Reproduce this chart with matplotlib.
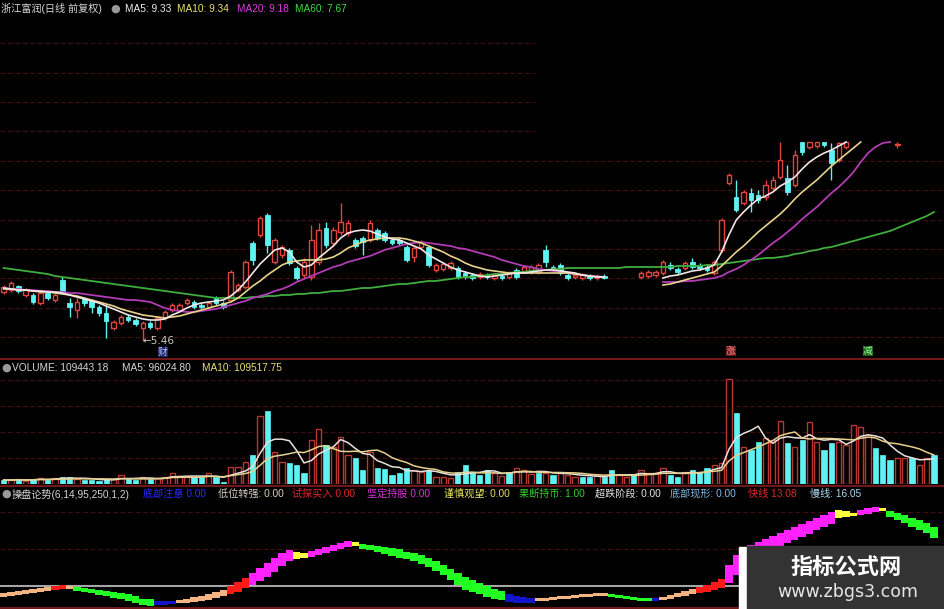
import numpy as np
import pandas as pd
import matplotlib
matplotlib.use("Agg")
import matplotlib.pyplot as plt
from matplotlib.patches import Rectangle
from matplotlib.lines import Line2D

nan = np.nan

# ---------------- price data (128 trading days) ----------------
open_ = [6.16, 6.20, 6.28, 6.10, 6.10, 5.94, 6.14, 6.00, 6.40, 5.94,
         5.80, 6.02, 5.98, 5.86, 5.74, 5.44, 5.54, 5.66, 5.60, 5.44,
         5.54, 5.44, 5.64, 5.80, 5.80, 5.94, 5.96, 5.90, 5.86, 6.04,
         5.94, 6.00, 6.20, 6.26, 7.14, 7.30, 7.70, 6.76, 6.90, 7.00,
         6.64, 6.50, 6.46, 6.76, 7.44, 7.14, 7.36, 7.34, 7.20, 7.24,
         7.20, 7.40, 7.34, 7.20, 7.20, 7.06, 6.86, 7.06, 7.06, 6.60,
         6.62, 6.64, 6.64, 6.54, 6.50, 6.46, 6.50, 6.44, 6.48, 6.46,
         6.60, 6.58, 6.56, 6.56, 7.00, 6.66, 6.70, 6.50, 6.46, 6.44,
         6.48, 6.44, 6.48, nan, nan, nan, nan, 6.46, 6.48, 6.50,
         6.54, 6.70, 6.62, 6.64, 6.76, 6.70, 6.66, 6.54, 7.00, 8.34,
         8.06, 7.94, 8.14, 8.10, 8.06, 8.24, 8.46, 8.44, 8.30, 9.16,
         9.06, 9.08, 9.16, 9.00, 8.80, 9.06, nan, nan, nan, nan,
         nan, nan, 9.10, nan, nan, nan, nan, nan]
close = [6.26, 6.34, 6.18, 6.20, 5.96, 6.14, 6.04, 6.10, 6.18, 5.86,
         5.96, 5.94, 5.86, 5.74, 5.58, 5.56, 5.66, 5.60, 5.52, 5.54,
         5.46, 5.64, 5.76, 5.90, 5.90, 6.00, 5.86, 5.86, 5.94, 5.94,
         5.86, 6.56, 6.30, 6.76, 6.80, 7.64, 7.10, 7.20, 7.06, 6.74,
         6.44, 6.76, 7.20, 7.40, 7.10, 7.40, 7.56, 7.54, 7.08, 7.16,
         7.54, 7.24, 7.20, 7.14, 7.14, 6.80, 7.04, 7.16, 6.70, 6.70,
         6.72, 6.74, 6.46, 6.46, 6.44, 6.52, 6.46, 6.50, 6.44, 6.54,
         6.46, 6.66, 6.66, 6.70, 6.76, 6.60, 6.54, 6.44, 6.50, 6.50,
         6.44, 6.48, 6.44, nan, nan, nan, nan, 6.54, 6.56, 6.56,
         6.76, 6.64, 6.56, 6.74, 6.66, 6.64, 6.60, 6.76, 7.60, 8.50,
         7.80, 8.16, 8.00, 8.00, 8.30, 8.40, 8.80, 8.16, 8.90, 8.96,
         9.16, 9.16, 9.10, 8.74, 9.14, 9.16, nan, nan, nan, nan,
         nan, nan, 9.12, nan, nan, nan, nan, nan]
high = [6.30, 6.38, 6.30, 6.24, 6.14, 6.18, 6.18, 6.14, 6.46, 6.04,
        6.04, 6.06, 6.02, 5.90, 5.90, 5.60, 5.70, 5.70, 5.64, 5.58,
        5.58, 5.68, 5.80, 5.94, 5.94, 6.04, 6.00, 5.94, 5.98, 6.08,
        5.98, 6.60, 6.34, 6.80, 7.18, 7.68, 7.74, 7.24, 7.10, 7.04,
        6.68, 6.84, 7.50, 7.54, 7.56, 7.46, 7.94, 7.60, 7.24, 7.28,
        7.60, 7.44, 7.38, 7.24, 7.24, 7.10, 7.10, 7.20, 7.10, 6.74,
        6.76, 6.78, 6.68, 6.58, 6.54, 6.56, 6.54, 6.54, 6.52, 6.58,
        6.64, 6.70, 6.70, 6.74, 7.10, 6.70, 6.74, 6.54, 6.54, 6.54,
        6.52, 6.52, 6.52, nan, nan, nan, nan, 6.58, 6.60, 6.60,
        6.80, 6.76, 6.66, 6.78, 6.84, 6.74, 6.72, 6.80, 7.64, 8.54,
        8.40, 8.20, 8.24, 8.20, 8.40, 8.48, 9.16, 8.70, 9.00, 9.16,
        9.16, 9.16, 9.16, 9.14, 9.16, 9.16, nan, nan, nan, nan,
        nan, nan, 9.16, nan, nan, nan, nan, nan]
low = [6.12, 6.16, 6.14, 6.06, 5.92, 5.90, 6.00, 5.96, 6.14, 5.66,
       5.64, 5.88, 5.74, 5.68, 5.24, 5.40, 5.50, 5.56, 5.48, 5.18,
       5.42, 5.40, 5.60, 5.76, 5.76, 5.90, 5.82, 5.82, 5.82, 5.90,
       5.82, 5.96, 6.16, 6.22, 6.70, 7.26, 6.94, 6.72, 6.84, 6.70,
       6.40, 6.44, 6.40, 6.70, 7.04, 7.08, 7.30, 7.28, 7.04, 6.90,
       7.16, 7.20, 7.16, 7.10, 7.10, 6.76, 6.76, 7.02, 6.66, 6.56,
       6.58, 6.60, 6.42, 6.42, 6.40, 6.42, 6.42, 6.40, 6.40, 6.42,
       6.42, 6.54, 6.52, 6.52, 6.66, 6.56, 6.50, 6.40, 6.42, 6.40,
       6.40, 6.40, 6.42, nan, nan, nan, nan, 6.42, 6.44, 6.46,
       6.50, 6.60, 6.52, 6.60, 6.62, 6.60, 6.56, 6.50, 6.96, 8.30,
       7.76, 7.90, 7.76, 7.94, 8.00, 8.20, 8.42, 8.10, 8.26, 8.90,
       9.02, 9.04, 9.06, 8.40, 8.76, 9.02, nan, nan, nan, nan,
       nan, nan, 9.04, nan, nan, nan, nan, nan]

ma5 = [6.24, 6.22, 6.20, 6.20, 6.18, 6.18, 6.16, 6.16, 6.14, 6.10,
       6.06, 6.02, 5.98, 5.94, 5.88, 5.82, 5.76, 5.70, 5.66, 5.62,
       5.60, 5.60, 5.62, 5.70, 5.76, 5.84, 5.90, 5.94, 5.96, 5.98,
       6.00, 6.08, 6.20, 6.36, 6.54, 6.72, 6.86, 7.00, 7.04, 6.96,
       6.76, 6.66, 6.70, 6.84, 6.96, 7.08, 7.24, 7.34, 7.38, 7.40,
       7.38, 7.32, 7.26, 7.22, 7.20, 7.14, 7.08, 7.02, 6.90, 6.82,
       6.74, 6.66, 6.60, 6.56, 6.52, 6.48, 6.46, 6.48, 6.50, 6.52,
       6.54, 6.54, 6.56, 6.58, 6.60, 6.60, 6.58, 6.56, 6.54, 6.50,
       6.48, 6.46, 6.46, nan, nan, nan, nan, nan, nan, nan,
       6.44, 6.48, 6.50, 6.54, 6.58, 6.60, 6.64, 6.70, 6.96, 7.30,
       7.60, 7.76, 7.90, 8.02, 8.08, 8.16, 8.28, 8.36, 8.46, 8.62,
       8.76, 8.86, 8.94, 9.00, 9.08, 9.16, nan, nan, nan, nan,
       nan, nan, nan, nan, nan, nan, nan, nan]
ma10 = [6.22, 6.22, 6.20, 6.20, 6.18, 6.16, 6.16, 6.14, 6.12, 6.10,
        6.08, 6.04, 6.00, 5.96, 5.92, 5.88, 5.82, 5.78, 5.74, 5.70,
        5.68, 5.66, 5.64, 5.66, 5.68, 5.72, 5.76, 5.80, 5.84, 5.88,
        5.92, 5.96, 6.04, 6.16, 6.28, 6.38, 6.50, 6.60, 6.70, 6.76,
        6.78, 6.80, 6.80, 6.80, 6.82, 6.86, 6.94, 7.04, 7.10, 7.16,
        7.20, 7.22, 7.24, 7.24, 7.24, 7.22, 7.18, 7.14, 7.08, 7.02,
        6.96, 6.88, 6.82, 6.74, 6.68, 6.64, 6.60, 6.58, 6.56, 6.54,
        6.54, 6.54, 6.54, 6.54, 6.54, 6.54, 6.54, 6.54, 6.52, 6.50,
        6.48, 6.46, 6.46, nan, nan, nan, nan, nan, nan, nan,
        6.30, 6.32, 6.36, 6.40, 6.44, 6.48, 6.52, 6.56, 6.68, 6.82,
        6.96, 7.08, 7.22, 7.36, 7.48, 7.60, 7.72, 7.86, 8.02, 8.16,
        8.28, 8.40, 8.54, 8.68, 8.80, 8.92, 9.04, 9.16, nan, nan,
        nan, nan, nan, nan, nan, nan, nan, nan]
ma20 = [6.24, 6.22, 6.22, 6.20, 6.20, 6.18, 6.18, 6.16, 6.16, 6.14,
        6.14, 6.12, 6.10, 6.08, 6.06, 6.04, 6.02, 6.00, 6.00, 5.98,
        5.96, 5.90, 5.84, 5.80, 5.78, 5.76, 5.76, 5.78, 5.80, 5.82,
        5.86, 5.90, 5.94, 5.98, 6.04, 6.08, 6.12, 6.18, 6.22, 6.28,
        6.36, 6.42, 6.48, 6.54, 6.60, 6.66, 6.70, 6.76, 6.80, 6.84,
        6.88, 6.94, 7.00, 7.04, 7.08, 7.12, 7.14, 7.16, 7.14, 7.12,
        7.10, 7.08, 7.04, 7.02, 6.98, 6.94, 6.90, 6.86, 6.80, 6.76,
        6.72, 6.68, 6.66, 6.62, 6.60, 6.58, 6.56, 6.54, 6.52, 6.50,
        6.48, 6.48, 6.46, nan, nan, nan, nan, nan, nan, nan,
        6.36, 6.36, 6.36, 6.38, 6.38, 6.40, 6.42, 6.44, 6.48, 6.56,
        6.62, 6.70, 6.80, 6.90, 7.02, 7.14, 7.24, 7.36, 7.48, 7.62,
        7.74, 7.86, 8.00, 8.14, 8.26, 8.40, 8.56, 8.76, 8.94, 9.06,
        9.14, 9.16, nan, nan, nan, nan, nan, nan]
ma60 = [6.64, 6.62, 6.60, 6.58, 6.56, 6.54, 6.52, 6.48, 6.46, 6.44,
        6.42, 6.40, 6.38, 6.36, 6.34, 6.32, 6.30, 6.28, 6.26, 6.24,
        6.22, 6.20, 6.18, 6.16, 6.14, 6.12, 6.10, 6.08, 6.06, 6.04,
        6.04, 6.04, 6.04, 6.04, 6.06, 6.06, 6.08, 6.08, 6.10, 6.10,
        6.12, 6.12, 6.14, 6.14, 6.16, 6.18, 6.18, 6.20, 6.22, 6.24,
        6.24, 6.26, 6.28, 6.30, 6.32, 6.32, 6.34, 6.36, 6.38, 6.38,
        6.40, 6.42, 6.44, 6.46, 6.46, 6.48, 6.50, 6.52, 6.52, 6.54,
        6.56, 6.56, 6.58, 6.60, 6.60, 6.62, 6.62, 6.64, 6.64, 6.64,
        6.64, 6.64, 6.64, 6.64, 6.64, 6.66, 6.66, 6.66, 6.66, 6.66,
        6.66, 6.66, 6.68, 6.68, 6.68, 6.68, 6.70, 6.70, 6.72, 6.74,
        6.76, 6.78, 6.80, 6.82, 6.84, 6.84, 6.86, 6.88, 6.92, 6.94,
        6.98, 7.00, 7.04, 7.06, 7.10, 7.14, 7.18, 7.22, 7.26, 7.30,
        7.34, 7.38, 7.44, 7.50, 7.56, 7.62, 7.68, 7.76]

# ---------------- volume ----------------
volume = [15000, 15000, 19000, 11000, 19000, 23000, 15000, 23000, 26000, 26000,
          19000, 15000, 15000, 11000, 19000, 19000, 34000, 19000, 15000, 26000,
          19000, 23000, 26000, 42000, 30000, 26000, 26000, 26000, 42000, 26000,
          8000, 64000, 64000, 83000, 109000, 257000, 276000, 121000, 83000, 79000,
          72000, 42000, 166000, 208000, 147000, 140000, 177000, 109000, 98000, 53000,
          121000, 60000, 57000, 34000, 42000, 60000, 53000, 45000, 53000, 26000,
          26000, 23000, 45000, 72000, 45000, 34000, 53000, 42000, 30000, 45000,
          60000, 53000, 38000, 42000, 42000, 34000, 45000, 34000, 26000, 26000,
          26000, 34000, 26000, 53000, 34000, 26000, 34000, 53000, 42000, 42000,
          60000, 34000, 26000, 45000, 53000, 45000, 60000, 72000, 79000, 396000,
          268000, 140000, 128000, 159000, 174000, 166000, 238000, 155000, 140000, 166000,
          234000, 159000, 128000, 155000, 159000, 147000, 223000, 215000, 185000, 136000,
          109000, 91000, 98000, 98000, 98000, 72000, 98000, 109443]
vol_up = [0, 1, 0, 1, 0, 1, 0, 1, 0, 0, 1, 0, 0, 0, 0, 1, 1, 0, 0, 1,
          0, 1, 1, 1, 1, 1, 0, 0, 1, 0, 0, 1, 1, 1, 0, 1, 0, 1, 1, 0,
          0, 0, 1, 1, 0, 1, 1, 1, 0, 0, 1, 0, 0, 0, 0, 0, 1, 1, 0, 1,
          1, 1, 0, 0, 0, 0, 0, 1, 1, 0, 1, 1, 1, 0, 1, 0, 1, 1, 1, 0,
          0, 1, 0, 0, 1, 1, 0, 1, 1, 1, 1, 0, 0, 1, 0, 0, 0, 1, 1, 1,
          0, 1, 0, 0, 1, 1, 1, 0, 1, 0, 1, 1, 0, 0, 1, 1, 1, 1, 1, 0,
          0, 0, 1, 1, 0, 1, 1, 0]

# ---------------- indicator (操盘论势) ----------------
fast = [-1.89, -1.62, -1.35, -1.08, -0.81, -0.54, -0.27, 0.00, 0.27, 0.00,
        -1.35, -1.62, -1.89, -2.43, -2.70, -3.24, -3.51, -4.05, -4.59, -5.13,
        -5.40, -5.13, -5.13, -4.86, -3.78, -3.51, -2.97, -2.70, -2.16, -1.62,
        -1.08, 0.00, 1.08, 2.16, 3.51, 4.86, 6.21, 7.56, 8.91, 9.72,
        9.18, 8.91, 9.45, 9.99, 10.53, 11.07, 11.61, 12.15, 11.88, 9.99,
        9.72, 9.18, 8.64, 8.10, 7.56, 7.29, 6.75, 5.94, 5.13, 4.05,
        2.97, 1.62, 0.27, -1.08, -1.62, -2.16, -2.97, -3.51, -3.78, -4.32,
        -4.59, -4.59, -4.59, -3.51, -3.24, -2.97, -2.70, -2.70, -2.43, -2.16,
        -2.16, -1.89, -1.89, -2.97, -3.24, -3.51, -3.78, -4.05, -4.05, -4.05,
        -2.97, -2.43, -1.89, -1.35, -0.81, -0.27, 0.27, 1.08, 1.89, 5.67,
        8.37, 10.26, 11.07, 11.88, 12.69, 13.50, 14.31, 15.12, 15.93, 16.74,
        17.55, 18.36, 19.17, 19.98, 20.52, 20.25, 19.44, 20.52, 21.06, 21.33,
        21.06, 18.63, 17.82, 17.01, 15.93, 15.12, 14.31, 13.08]
slow = [-2.97, -2.70, -2.43, -2.16, -1.89, -1.62, -1.35, -1.08, -0.81, -0.81,
        -0.27, -0.54, -0.81, -1.08, -1.35, -1.62, -1.89, -2.16, -2.70, -3.51,
        -3.51, -4.05, -4.05, -4.05, -4.59, -4.59, -4.32, -4.05, -3.78, -3.24,
        -2.70, -2.16, -1.62, -0.54, 0.27, 1.35, 2.43, 3.78, 5.40, 6.75,
        7.29, 7.56, 7.83, 8.37, 8.91, 9.45, 9.99, 10.53, 10.80, 11.34,
        11.07, 10.80, 10.53, 10.26, 9.99, 9.18, 8.91, 8.37, 7.56, 6.75,
        5.67, 4.59, 3.51, 2.43, 1.62, 0.81, 0.00, -0.81, -1.35, -2.16,
        -2.70, -2.97, -3.24, -4.05, -4.05, -3.78, -3.51, -3.51, -3.24, -2.97,
        -2.97, -2.70, -2.70, -2.16, -2.43, -2.70, -2.97, -3.24, -3.51, -3.51,
        -3.78, -3.51, -2.97, -2.70, -2.16, -1.89, -1.62, -1.08, -0.54, 0.81,
        2.97, 5.40, 7.56, 8.37, 9.18, 9.99, 10.80, 11.61, 12.42, 13.23,
        14.04, 15.12, 15.93, 16.74, 18.36, 18.63, 18.90, 19.17, 19.44, 19.98,
        20.25, 20.25, 19.71, 19.17, 18.36, 17.82, 17.01, 16.05]
# states: B 低位转强, R 试探买入, M 坚定持股, Y 谨慎观望, G 果断持币, U 底部注意
state = ("BBBBBBB" "RR" "B" "GGGGGGGGGGG" "UUU" "BBBBBBB" "RRR" "MMMMMM" "YY"
         "MMMMMM" "Y" "GGGGGGGGGGGGGGGGGGGG" "UUUU" "BBBBBBBBBB" "GGGGGG" "U"
         "BBBBB" "RRRR" "MMMMMMMMMMMMMMM" "YYY" "MMM" "Y" "GGGGGGG")

# ---------------- styling ----------------
BG = "black"
RED = "#e0463f"
VRED = "#b8362f"
CYAN = "#5ff2f2"
GRID = "#3c0e14"
SEP = "#8a1c1c"
FONT = ["Liberation Sans", "Noto Sans CJK SC", "DejaVu Sans"]
W, H = 945, 609

o = np.array(open_, float); c = np.array(close, float)
hi = np.array(high, float); lo = np.array(low, float)
N = len(o)
x = np.arange(N)

fig = plt.figure(figsize=(W / 100, H / 100), dpi=100, facecolor=BG)
ax1 = fig.add_axes([0, 251 / H, 1, 358 / H])
ax2 = fig.add_axes([0, 125 / H, 1, 124 / H])
ax3 = fig.add_axes([0, 0, 1, 123 / H])
for a in (ax1, ax2, ax3):
    a.set_facecolor(BG)
    a.set_xlim(-0.5, 128.5)
    a.axis("off")
ax1.set_ylim(4.84, 12.0)
ax2.set_ylim(0, 468000)
ax3.set_ylim(-6.21, 27.0)

# grid lines
for yv in [11.14, 10.55, 9.96, 9.38]:
    ax1.hlines(yv, -0.5, 72.5, color=GRID, lw=0.9, ls=(0, (4, 2)), zorder=0)
for yv in [8.79, 8.20, 7.61, 7.02, 6.44, 5.85, 5.26]:
    ax1.hlines(yv, -0.5, 128.5, color=GRID, lw=0.9, ls=(0, (4, 2)), zorder=0)
for yv in [98000, 196000, 294000, 392000]:
    ax2.hlines(yv, -0.5, 128.5, color=GRID, lw=0.9, ls=(0, (4, 2)), zorder=0)
for yv in [10, 20]:
    ax3.hlines(yv, -0.5, 128.5, color=GRID, lw=0.9, ls=(0, (4, 2)), zorder=0)

# candles
valid = ~np.isnan(o)
up = valid & (c >= o)
dn = valid & (c < o)
bb = np.minimum(o, c)
bh = np.maximum(np.abs(c - o), 0.03)
ax1.vlines(x[up], lo[up], hi[up], color=RED, lw=1.0, zorder=2)
ax1.vlines(x[dn], lo[dn], hi[dn], color=CYAN, lw=1.0, zorder=2)
ax1.bar(x[up], bh[up], bottom=bb[up], width=0.62, facecolor=BG, edgecolor=RED, lw=1.0, zorder=3)
ax1.bar(x[dn], bh[dn], bottom=bb[dn], width=0.62, facecolor=CYAN, edgecolor=CYAN, lw=0.6, zorder=3)

ax1.plot(x, ma60, color="#3fae3f", lw=1.3, zorder=4)
ax1.plot(x, ma20, color="#b23cb4", lw=1.3, zorder=4)
ax1.plot(x, ma10, color="#e6d48c", lw=1.2, zorder=5)
ax1.plot(x, ma5, color="#f2e6e6", lw=1.2, zorder=5)

ax1.text(19, lo[19], "\u21905.46", color="#c8c8c8", fontsize=7.5, family=["DejaVu Sans"],
         ha="left", va="center", zorder=6)

# volume
v = np.array(volume, float)
vu = np.array(vol_up, bool)
ax2.bar(x[vu], v[vu], width=0.72, facecolor=BG, edgecolor=VRED, lw=1.0, zorder=2)
ax2.bar(x[~vu], v[~vu], width=0.72, facecolor=CYAN, edgecolor=CYAN, lw=0.5, zorder=2)
vs = pd.Series(v)
ax2.plot(x, vs.rolling(5, min_periods=1).mean(), color="#eae2dc", lw=1.1, zorder=3)
ax2.plot(x, vs.rolling(10, min_periods=1).mean(), color="#e6d08e", lw=1.1, zorder=3)

# indicator band
cmap = {"B": "#f4b482", "R": "#ff1a1a", "M": "#ff22ff", "Y": "#ffff3c",
        "G": "#22ff22", "U": "#1414c8"}
f = np.array(fast); s = np.array(slow)
bot = np.minimum(f, s)
hgt = np.maximum(np.abs(f - s), 0.8)
ax3.axhline(0, color="#c8c8c8", lw=1.2, zorder=1)
ax3.bar(x, hgt, bottom=bot, width=1.0, color=[cmap[k] for k in state], lw=0, zorder=2)

# separators
for yp in (358.5, 485.5, 607.5):
    fig.add_artist(Line2D([0, 1], [1 - yp / H] * 2, color=SEP, lw=1.2, transform=fig.transFigure))


def T(xp, yp, txt, col, size=7.3, **kw):
    fig.text(xp / W, 1 - yp / H, txt, color=col, fontsize=size, family=FONT,
             ha="left", va="center", **kw)


def dot(xp, yp):
    fig.text(xp / W, 1 - yp / H, "\u25cf", color="#9a9a9a", fontsize=8,
             family=["DejaVu Sans"], ha="center", va="center")


# header rows
T(1, 9, "浙江富润(日线 前复权)", "#d4d4d4")
dot(115, 9)
T(125, 9, "MA5: 9.33", "#ececec")
T(177, 9, "MA10: 9.34", "#e8e070")
T(237, 9, "MA20: 9.18", "#dc3cdc")
T(295, 9, "MA60: 7.67", "#3cdc3c")

dot(6, 368)
T(12, 368, "VOLUME: 109443.18", "#d4d4d4")
T(122, 368, "MA5: 96024.80", "#d4d4d4")
T(202, 368, "MA10: 109517.75", "#e8e070")

dot(6, 494)
T(12, 494, "操盘论势(6,14,95,250,1,2)", "#d4d4d4")
T(143, 494, "底部注意 0.00", "#2a2aff")
T(218, 494, "低位转强: 0.00", "#d8d0c4")
T(292, 494, "试探买入 0.00", "#e02828")
T(367, 494, "坚定持股 0.00", "#dc30dc")
T(444, 494, "谨慎观望: 0.00", "#e8e060")
T(519, 494, "果断持币: 1.00", "#30d030")
T(595, 494, "超跌阶段: 0.00", "#e4e4e4")
T(670, 494, "底部现形: 0.00", "#80b8e0")
T(748, 494, "快线 13.08", "#e02828")
T(810, 494, "慢线: 16.05", "#a8d8f0")

# event markers
T(158, 352, "财", "#b0c0ff", size=7, bbox=dict(boxstyle="square,pad=0.05", fc="#1c2266", ec="none"))
T(726, 351, "涨", "#ff9090", size=7, bbox=dict(boxstyle="square,pad=0.05", fc="#6a1616", ec="none"))
T(863, 351, "减", "#90ff90", size=7, bbox=dict(boxstyle="square,pad=0.05", fc="#1c5a1c", ec="none"))

# watermark
fig.add_artist(Rectangle((739 / W, 0), 8 / W, 62 / H, transform=fig.transFigure,
                         color="white", zorder=10))
fig.add_artist(Rectangle((747 / W, 0), (W - 747) / W, 63 / H, transform=fig.transFigure,
                         color="#333333", zorder=10))
fig.text(846 / W, 1 - 567 / H, "指标公式网", color="white", fontsize=16, fontweight="bold",
         family=["Noto Sans CJK SC"], ha="center", va="center", zorder=11)
fig.text(848 / W, 1 - 592 / H, "www.zbgs3.com", color="#e6e6e6", fontsize=12.5,
         family=["DejaVu Sans"], ha="center", va="center", zorder=11)

fig.savefig("out.png", dpi=100, facecolor=BG)
